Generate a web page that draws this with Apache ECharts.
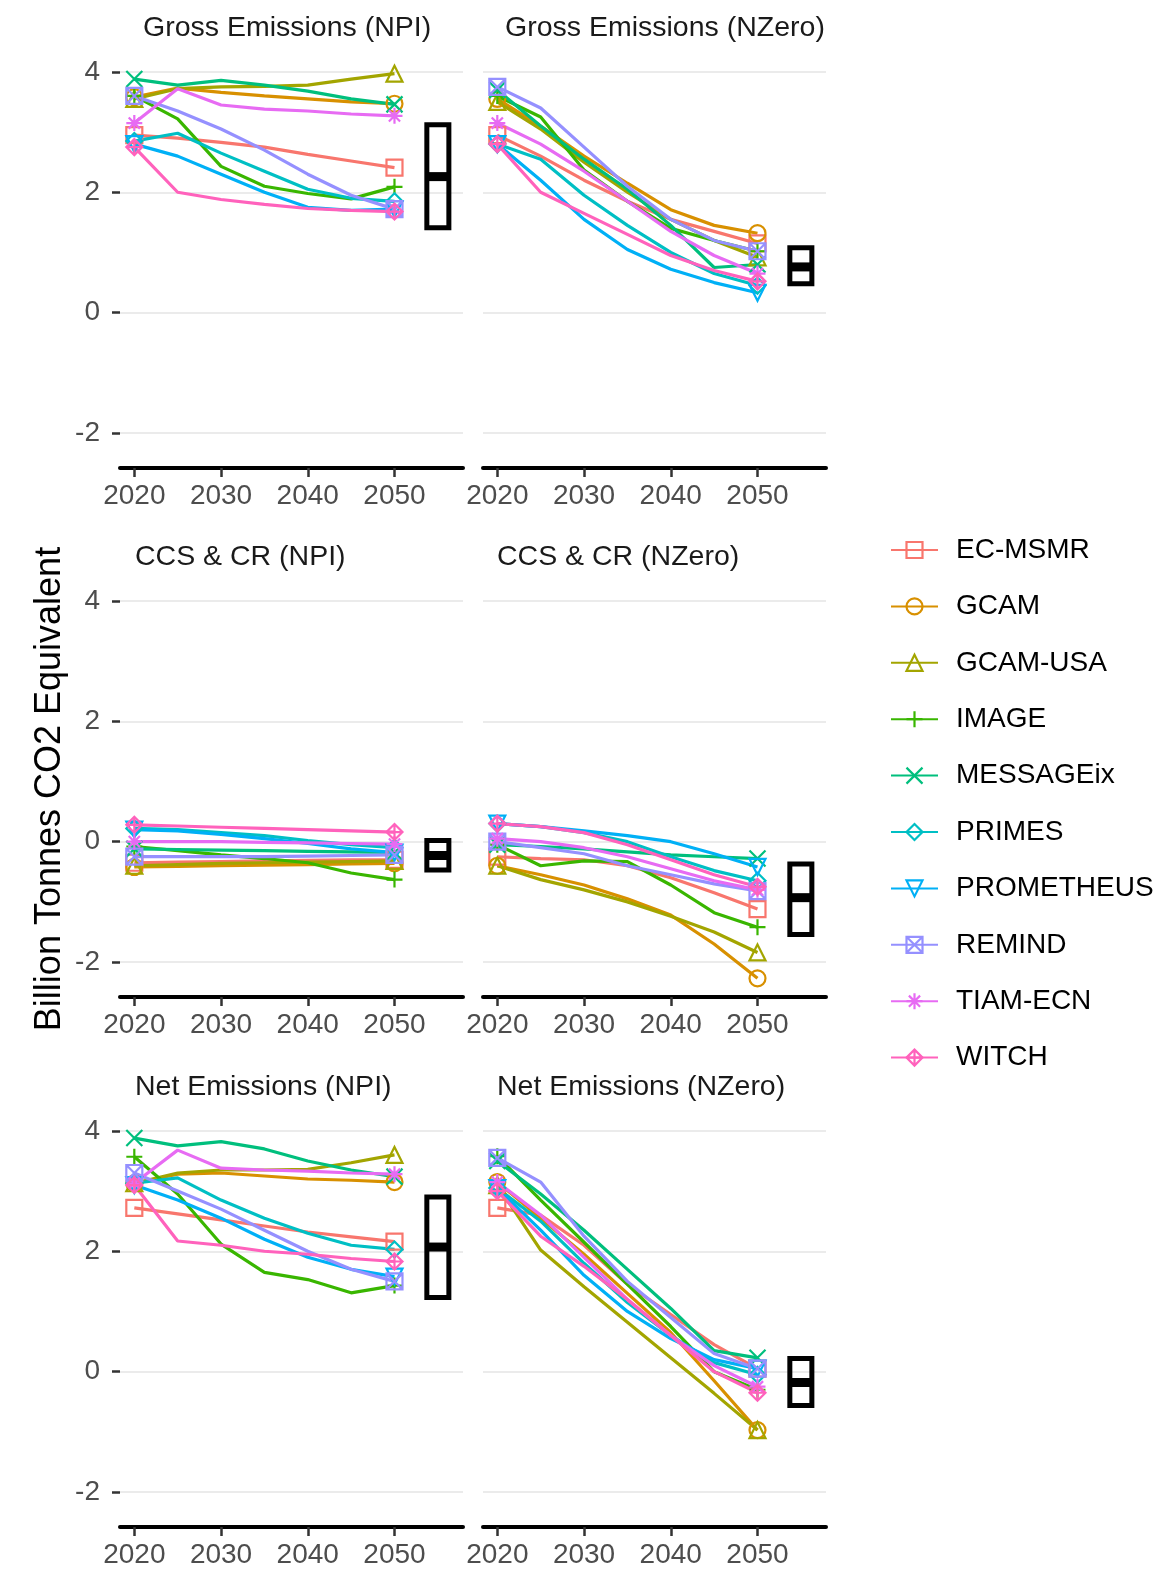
<!DOCTYPE html>
<html><head><meta charset="utf-8">
<script src="https://cdn.jsdelivr.net/npm/echarts@6/dist/echarts.min.js"></script>
<style>html,body{margin:0;padding:0;background:#fff}#c{width:1161px;height:1570px}</style>
</head><body><div id="c"></div><script>
// ---------- data ----------
const years = [2020, 2025, 2030, 2035, 2040, 2045, 2050];
const models = ['EC-MSMR','GCAM','GCAM-USA','IMAGE','MESSAGEix','PRIMES','PROMETHEUS','REMIND','TIAM-ECN','WITCH'];
const xTicks = [2020, 2030, 2040, 2050];
const yTicks = [-2, 0, 2, 4];
const panelTitles = ['Gross Emissions (NPI)','Gross Emissions (NZero)','CCS & CR (NPI)','CCS & CR (NZero)','Net Emissions (NPI)','Net Emissions (NZero)'];
const yAxisTitle = 'Billion Tonnes CO2 Equivalent';

// rows: models in order above; columns: years
const grossNPI = [
  [2.95, 2.90, 2.83, 2.75, 2.63, 2.52, 2.41],
  [3.58, 3.73, 3.66, 3.60, 3.55, 3.50, 3.47],
  [3.55, 3.72, 3.75, 3.76, 3.78, 3.88, 3.97],
  [3.60, 3.22, 2.43, 2.10, 1.98, 1.89, 2.09],
  [3.88, 3.78, 3.86, 3.78, 3.68, 3.55, 3.46],
  [2.85, 2.98, 2.65, 2.35, 2.05, 1.90, 1.85],
  [2.80, 2.60, 2.30, 2.00, 1.75, 1.70, 1.72],
  [3.60, 3.35, 3.05, 2.70, 2.30, 1.95, 1.72],
  [3.15, 3.72, 3.45, 3.38, 3.35, 3.30, 3.27],
  [2.75, 2.00, 1.88, 1.80, 1.73, 1.70, 1.68]
];
const grossNZero = [
  [2.95, 2.60, 2.20, 1.85, 1.55, 1.35, 1.15],
  [3.55, 3.10, 2.60, 2.15, 1.71, 1.45, 1.32],
  [3.50, 3.05, 2.50, 2.00, 1.55, 1.20, 0.92],
  [3.60, 3.25, 2.37, 1.85, 1.40, 1.20, 1.02],
  [3.70, 3.10, 2.55, 2.05, 1.45, 0.75, 0.80],
  [2.80, 2.55, 1.95, 1.45, 1.00, 0.65, 0.45],
  [2.80, 2.20, 1.55, 1.05, 0.72, 0.50, 0.33],
  [3.75, 3.40, 2.75, 2.10, 1.55, 1.20, 1.02],
  [3.15, 2.80, 2.35, 1.85, 1.35, 0.95, 0.65],
  [2.80, 2.00, 1.65, 1.30, 0.95, 0.70, 0.52]
];
const ccsNPI = [
  [-0.35, -0.34, -0.33, -0.32, -0.31, -0.30, -0.30],
  [-0.42, -0.41, -0.40, -0.39, -0.38, -0.37, -0.36],
  [-0.40, -0.38, -0.36, -0.35, -0.34, -0.33, -0.32],
  [-0.08, -0.15, -0.22, -0.28, -0.35, -0.52, -0.63],
  [-0.12, -0.13, -0.14, -0.15, -0.16, -0.17, -0.18],
  [0.22, 0.20, 0.15, 0.10, 0.02, -0.05, -0.10],
  [0.20, 0.18, 0.12, 0.05, -0.03, -0.12, -0.18],
  [-0.25, -0.25, -0.25, -0.25, -0.24, -0.23, -0.22],
  [0.00, 0.00, 0.00, -0.01, -0.02, -0.03, -0.04],
  [0.28, 0.26, 0.24, 0.22, 0.20, 0.18, 0.16]
];
const ccsNZero = [
  [-0.25, -0.28, -0.30, -0.40, -0.60, -0.85, -1.12],
  [-0.40, -0.55, -0.72, -0.95, -1.22, -1.70, -2.27],
  [-0.40, -0.63, -0.80, -1.00, -1.24, -1.50, -1.84],
  [-0.05, -0.40, -0.32, -0.33, -0.72, -1.18, -1.42],
  [-0.05, -0.08, -0.12, -0.17, -0.22, -0.25, -0.28],
  [0.30, 0.25, 0.15, 0.00, -0.25, -0.48, -0.65],
  [0.30, 0.25, 0.18, 0.10, 0.00, -0.20, -0.42],
  [0.00, -0.10, -0.20, -0.40, -0.55, -0.70, -0.82],
  [0.05, 0.00, -0.10, -0.25, -0.45, -0.65, -0.80],
  [0.30, 0.25, 0.15, -0.05, -0.30, -0.55, -0.75]
];
const netNPI = [
  [2.72, 2.62, 2.52, 2.42, 2.32, 2.24, 2.16],
  [3.13, 3.28, 3.30, 3.25, 3.20, 3.18, 3.15],
  [3.13, 3.30, 3.35, 3.35, 3.36, 3.47, 3.60],
  [3.57, 2.95, 2.12, 1.65, 1.53, 1.31, 1.43],
  [3.88, 3.75, 3.82, 3.70, 3.50, 3.35, 3.24],
  [3.13, 3.22, 2.85, 2.55, 2.30, 2.10, 2.03],
  [3.10, 2.85, 2.55, 2.20, 1.90, 1.70, 1.58],
  [3.30, 3.00, 2.70, 2.35, 2.00, 1.70, 1.50],
  [3.13, 3.68, 3.38, 3.35, 3.33, 3.30, 3.28],
  [3.10, 2.17, 2.10, 2.00, 1.95, 1.88, 1.83]
];
const netNZero = [
  [2.72, 2.60, 2.10, 1.45, 0.95, 0.45, 0.05],
  [3.15, 2.55, 1.95, 1.30, 0.65, -0.15, -0.97],
  [3.10, 2.02, 1.41, 0.82, 0.23, -0.36, -0.97],
  [3.58, 2.85, 2.15, 1.45, 0.75, 0.00, -0.30],
  [3.50, 2.95, 2.35, 1.70, 1.05, 0.35, 0.23],
  [3.05, 2.50, 1.80, 1.15, 0.60, 0.15, -0.05],
  [3.05, 2.35, 1.60, 1.00, 0.55, 0.20, 0.05],
  [3.55, 3.15, 2.25, 1.50, 0.90, 0.30, 0.05],
  [3.15, 2.60, 1.90, 1.20, 0.60, 0.10, -0.25],
  [3.00, 2.25, 1.75, 1.20, 0.60, 0.00, -0.35]
];
// summary boxes at 2055 (panel order as panelTitles)
const boxYear = 2055;
const boxLow  = [1.41, 0.48, -0.47, -1.54, 1.23, -0.56];
const boxMid  = [2.26, 0.76, -0.23, -0.93, 2.07, -0.18];
const boxHigh = [3.12, 1.08, 0.02, -0.37, 2.90, 0.22];

// ---------- styling ----------
const F = 'Liberation Sans, Arial, Helvetica, sans-serif';
const colors = ['#F8766D','#D89000','#A3A500','#39B600','#00BF7D','#00BFC4','#00B0F6','#9590FF','#E76BF3','#FF62BC'];
const shapes = [
  'rect',
  'circle',
  'triangle',
  'path://M0,5 L10,5 M5,0 L5,10',
  'path://M0,0 L10,10 M10,0 L0,10',
  'diamond',
  'path://M0,0 L10,0 L5,8.66 Z',
  'path://M0,0 L10,0 L10,10 L0,10 Z M0,0 L10,10 M10,0 L0,10',
  'path://M0,5 L10,5 M5,0 L5,10 M1.5,1.5 L8.5,8.5 M8.5,1.5 L1.5,8.5',
  'path://M5,0 L10,5 L5,10 L0,5 Z M0,5 L10,5 M5,0 L5,10'
];
const panels = [grossNPI, grossNZero, ccsNPI, ccsNZero, netNPI, netNZero];
const gridLeft = [120, 483], gridTop = [55, 584, 1114], gridW = 343, gridH = 413;
const titleX = [143, 505, 135, 497, 135, 497];
const boxHalf = 1.27;

const grids = [], xAxes = [], yAxes = [], series = [], graphics = [];
panels.forEach((pd, p) => {
  const row = Math.floor(p / 2), col = p % 2;
  grids.push({left: gridLeft[col], top: gridTop[row], width: gridW, height: gridH});
  xAxes.push({
    type: 'value', gridIndex: p, min: 2018.35, max: 2057.9,
    splitLine: {show: false},
    axisLine: {show: true, onZero: false, lineStyle: {color: '#000', width: 4}},
    axisTick: {show: true, length: 9, lineStyle: {color: '#333', width: 2.5}, customValues: xTicks},
    axisLabel: {customValues: xTicks, fontSize: 28, color: '#4D4D4D', margin: 14, fontFamily: F, formatter: v => String(v)}
  });
  yAxes.push({
    type: 'value', gridIndex: p, min: -2.58, max: 4.28,
    axisLine: {show: false},
    axisTick: {show: col === 0, length: 8, lineStyle: {color: '#333', width: 2.5}, customValues: yTicks},
    axisLabel: {show: col === 0, customValues: yTicks, fontSize: 28, color: '#4D4D4D', margin: 20, fontFamily: F, formatter: v => String(v)},
    splitLine: {show: true, lineStyle: {color: '#EBEBEB', width: 2}}
  });
  models.forEach((m, k) => {
    series.push({
      type: 'line', name: m, xAxisIndex: p, yAxisIndex: p,
      data: years.map((yr, i) => ({value: [yr, pd[k][i]], symbol: (i === 0 || i === years.length - 1) ? shapes[k] : 'none'})),
      symbol: shapes[k], symbolSize: 16, showSymbol: true,
      lineStyle: {color: colors[k], width: 3.2},
      itemStyle: {color: 'rgba(255,255,255,0)', borderColor: colors[k], borderWidth: 2.2},
      emphasis: {disabled: true}, silent: true, z: 2, clip: false
    });
  });
  series.push({
    type: 'custom', xAxisIndex: p, yAxisIndex: p, silent: true, z: 3,
    data: [[boxYear, boxLow[p], boxMid[p], boxHigh[p]]],
    encode: {x: 0, y: [1, 2, 3]},
    renderItem: function (params, api) {
      const x = api.value(0), lo = api.value(1), mid = api.value(2), hi = api.value(3);
      const a = api.coord([x - boxHalf, hi]);
      const b = api.coord([x + boxHalf, lo]);
      const m1 = api.coord([x - boxHalf, mid]);
      const m2 = api.coord([x + boxHalf, mid]);
      return {type: 'group', children: [
        {type: 'rect', shape: {x: a[0], y: a[1], width: b[0] - a[0], height: b[1] - a[1]}, style: {fill: 'none', stroke: '#000', lineWidth: 5}},
        {type: 'line', shape: {x1: m1[0], y1: m1[1], x2: m2[0], y2: m2[1]}, style: {stroke: '#000', lineWidth: 9}}
      ]};
    }
  });
  graphics.push({type: 'text', x: titleX[p], y: gridTop[row] - 27, style: {text: panelTitles[p], fontSize: 28.5, fontFamily: F, fill: '#1A1A1A', textAlign: 'left', textVerticalAlign: 'middle'}});
});
graphics.push({type: 'text', x: 50, y: 789, rotation: Math.PI / 2, style: {text: yAxisTitle, fontSize: 36, fontFamily: F, fill: '#000', textAlign: 'center', textVerticalAlign: 'middle'}});

const chart = echarts.init(document.getElementById('c'), null, {renderer: 'canvas'});
chart.setOption({
  animation: false,
  backgroundColor: '#fff',
  grid: grids, xAxis: xAxes, yAxis: yAxes, series: series, graphic: graphics,
  legend: {
    orient: 'vertical', left: 885, top: 531, itemWidth: 47, itemHeight: 20, itemGap: 28.4,
    data: models, selectedMode: false,
    itemStyle: {borderWidth: 2.2},
    textStyle: {fontSize: 28, color: '#000', lineHeight: 20, padding: [0, 0, 0, 13], fontFamily: F}
  }
});
</script></body></html>
